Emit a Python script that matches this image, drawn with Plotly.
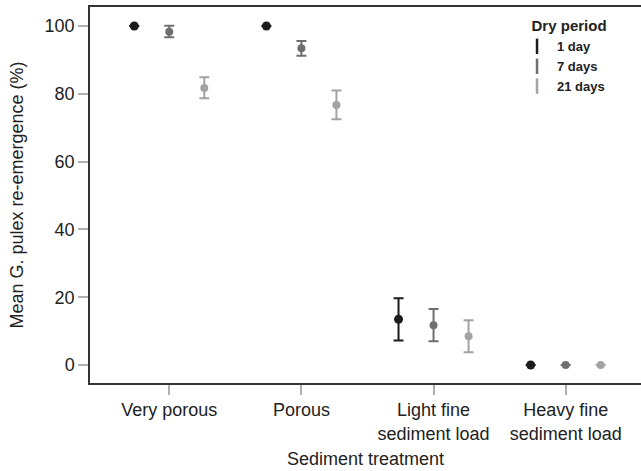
import plotly.graph_objects as go

categories = ["Very porous", "Porous", "Light fine<br>sediment load", "Heavy fine<br>sediment load"]
series_names = ["1 day", "7 days", "21 days"]
means = {
    "1 day":   [100.0, 100.0, 13.5, 0.0],
    "7 days":  [98.3, 93.4, 11.7, 0.0],
    "21 days": [81.7, 76.7, 8.5, 0.0],
}
err_hi = {
    "1 day":   [0.0, 0.0, 6.2, 0.0],
    "7 days":  [1.8, 2.2, 4.8, 0.0],
    "21 days": [3.2, 4.3, 4.7, 0.0],
}
err_lo = {
    "1 day":   [0.0, 0.0, 6.3, 0.0],
    "7 days":  [1.6, 2.2, 4.7, 0.0],
    "21 days": [3.0, 4.2, 4.7, 0.0],
}
colors = {"1 day": "#1c1c1c", "7 days": "#6f6f6f", "21 days": "#a3a3a3"}
offsets = {"1 day": -0.265, "7 days": 0.0, "21 days": 0.265}
sizes = {"1 day": 9, "7 days": 8, "21 days": 8}

fig = go.Figure()
for s in series_names:
    xs = [i + offsets[s] for i in range(len(categories))]
    fig.add_trace(go.Scatter(
        x=xs, y=means[s], mode="markers",
        marker=dict(color=colors[s], size=sizes[s]),
        error_y=dict(type="data", symmetric=False, array=err_hi[s], arrayminus=err_lo[s],
                     color=colors[s], thickness=2, width=5),
        showlegend=False,
    ))
    fig.add_trace(go.Scatter(
        x=[None], y=[None], mode="markers", name="<b>" + s + "</b>",
        marker=dict(symbol="line-ns", color=colors[s], size=11, line=dict(width=2.5, color=colors[s])),
        showlegend=True,
    ))

fig.update_layout(
    width=641, height=471,
    margin=dict(l=90, r=0, t=7, b=88),
    plot_bgcolor="white", paper_bgcolor="white",
    font=dict(family="Liberation Sans, Arial, sans-serif", size=18, color="#222222"),
    legend=dict(
        title=dict(text="&nbsp;&nbsp;&nbsp;<b>Dry period</b>", font=dict(size=15, color="#222222")),
        font=dict(size=13, color="#222222"),
        x=0.775, y=0.987, xanchor="left", yanchor="top",
        bgcolor="rgba(0,0,0,0)", itemwidth=30, tracegroupgap=0,
    ),
    xaxis=dict(
        range=[-0.6, 3.57], automargin=False,
        tickmode="array", tickvals=list(range(len(categories))), ticktext=categories,
        showline=True, linecolor="#333333", linewidth=1.5, mirror=True,
        ticks="outside", ticklen=10, tickcolor="#b0b0b0", tickwidth=1.5,
        showgrid=False, zeroline=False,
        title=dict(text="Sediment treatment", font=dict(size=18), standoff=10),
        tickfont=dict(size=18),
    ),
    yaxis=dict(
        range=[-5.3, 105.6], automargin=False,
        tickvals=[0, 20, 40, 60, 80, 100],
        showline=True, linecolor="#333333", linewidth=1.5,
        ticks="outside", ticklen=10, tickcolor="#b0b0b0", tickwidth=1.5,
        showgrid=False, zeroline=False,
        title=dict(text="Mean G. pulex re-emergence (%)", font=dict(size=18), standoff=16),
        tickfont=dict(size=18),
    ),
)

fig.write_html("out.html", config={"displayModeBar": False},
               post_script="document.body.style.margin='0';")
